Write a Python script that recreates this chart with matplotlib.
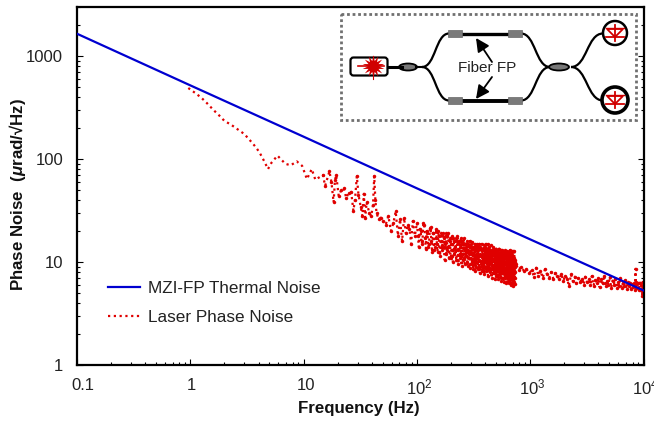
import matplotlib
matplotlib.use("Agg")
import matplotlib.pyplot as plt
from matplotlib.patches import FancyBboxPatch, Ellipse, Rectangle, Circle, PathPatch, Polygon
from matplotlib.path import Path
from matplotlib.transforms import ScaledTranslation

plt.rcParams['font.family'] = ['Liberation Sans', 'DejaVu Sans']
plt.rcParams['mathtext.fontset'] = 'custom'
plt.rcParams['mathtext.rm'] = 'Liberation Sans'
plt.rcParams['mathtext.it'] = 'Liberation Sans:italic:bold'
plt.rcParams['mathtext.bf'] = 'Liberation Sans:bold'

thermal_freq = [0.1, 1, 10, 100, 1000, 10000]
thermal_noise = [1650, 520, 165, 52, 16.6, 5.3]

low_freq = [0.96, 1.1, 1.25, 1.4, 1.6, 1.8, 2.0, 2.3, 2.7, 3.0,
            3.4, 3.8, 4.1, 4.5, 4.85, 5.2, 5.88, 6.9, 7.7, 8.7,
            9.7, 10.7, 11.8, 12.7, 13.6, 14.8, 15.5, 16.9, 17.6, 18.4,
            18.9, 19.4, 20.4, 21.5, 22.6, 23.8, 25, 26.3, 27.5, 28.4,
            29.5, 30.5, 32, 33, 34, 35, 36, 38, 39.5, 41,
            42, 43, 44, 46, 48, 50, 53, 56, 59, 62,
            65, 68, 71, 74, 77, 80, 83, 86, 89, 92, 96]
low_noise = [490, 440, 395, 350, 300, 265, 235, 215, 190, 175,
             150, 130, 115, 95, 80, 92, 108, 90, 87, 95,
             86, 64, 80, 63, 66, 70, 55, 76, 60, 38,
             62, 70, 44, 50, 52, 42, 47, 48, 31.5, 40,
             68, 45, 34, 28, 46, 27, 38, 30, 28, 36,
             68, 40, 30, 26, 27, 25, 23, 28, 20, 24,
             31, 18, 26, 16, 27, 19, 23, 21, 15, 25, 18]

band_freq = [100, 104, 108, 112, 116, 120, 124, 128, 132, 136,
             140, 144, 148, 152, 156, 160, 164, 168, 172, 176,
             180, 184, 188, 192, 196, 200, 204, 208, 212, 216,
             220, 224, 228, 232, 236, 240, 244, 248, 252, 256,
             260, 264, 268, 272, 276, 280, 284, 288, 292, 296,
             300, 304, 308, 312, 316, 320, 324, 328, 332, 336,
             340, 344, 348, 352, 356, 360, 364, 368, 372, 376,
             380, 384, 388, 392, 396, 400, 404, 408, 412, 416,
             420, 424, 428, 432, 436, 440, 444, 448, 452, 456,
             460, 464, 468, 472, 476, 480, 484, 488, 492, 496,
             500, 504, 508, 512, 516, 520, 524, 528, 532, 536,
             540, 544, 548, 552, 556, 560, 564, 568, 572, 576,
             580, 584, 588, 592, 596, 600, 604, 608, 612, 616,
             620, 624, 628, 632, 636, 640, 644, 648, 652, 656,
             660, 664, 668, 672, 676, 680, 684, 688, 692, 696,
             700, 704, 708, 712, 716, 720, 724, 728, 732, 736]
band_noise = [24, 14, 20, 16, 23, 13.5, 19, 15, 22, 12.5,
              19, 14, 21, 12.5, 18, 11.5, 19, 14.5, 17, 10.5,
              19, 13, 19, 11, 17, 11, 18, 10, 16, 13,
              17, 10.5, 18, 9.6, 16, 12, 17, 9.2, 15, 12,
              17, 9.5, 15, 11.5, 16, 9.2, 15, 11, 16, 8.8,
              15, 10.5, 15.5, 8.6, 14, 11, 15, 8.2, 14.5, 10,
              15, 8.6, 14, 10.5, 15, 7.8, 14, 9.5, 15, 8.2,
              13.5, 10, 14.5, 7.6, 14, 9, 15, 8.2, 13, 9.5,
              15, 7.3, 13.5, 9, 14, 8, 13, 9.5, 14.5, 7,
              13, 8.5, 14, 7.8, 12.5, 9, 13.5, 6.8, 13, 8.5,
              13.5, 7.3, 12.5, 8.8, 13, 6.8, 12.5, 8, 13.5, 7.2,
              12, 8.5, 13, 6.6, 12.5, 8, 13, 7, 12, 8.4,
              12.8, 6.4, 12, 7.8, 13, 7, 11.8, 8, 12.6, 6.3,
              12, 7.4, 12.8, 6.6, 11.5, 8, 12.4, 6.2, 12, 7.5,
              13, 6.4, 11.8, 7.6, 12.5, 6, 11.6, 7, 12.8, 6.2,
              11.5, 7.2, 12.7, 5.9, 11, 7, 12.7, 6.1, 10.5, 8]

band2_freq = [102, 106, 110, 114, 118, 122, 126, 130, 134, 138,
              142, 146, 150, 154, 158, 162, 166, 170, 174, 178,
              182, 186, 190, 194, 198, 202, 206, 210, 214, 218,
              222, 226, 230, 234, 238, 242, 246, 250, 254, 258,
              262, 266, 270, 274, 278, 282, 286, 290, 294, 298,
              302, 306, 310, 314, 318, 322, 326, 330, 334, 338,
              342, 346, 350, 354, 358, 362, 366, 370, 374, 378,
              382, 386, 390, 394, 398, 402, 406, 410, 414, 418,
              422, 426, 430, 434, 438, 442, 446, 450, 454, 458,
              462, 466, 470, 474, 478, 482, 486, 490, 494, 498,
              502, 506, 510, 514, 518, 522, 526, 530, 534, 538,
              542, 546, 550, 554, 558, 562, 566, 570, 574, 578,
              582, 586, 590, 594, 598, 602, 606, 610, 614, 618,
              622, 626, 630, 634, 638, 642, 646, 650, 654, 658,
              662, 666, 670, 674, 678, 682, 686, 690, 694, 698,
              702, 706, 710, 714, 718, 722, 726, 730, 734, 738]
band2_noise = [18, 21, 15, 24, 17, 20, 14, 21, 16, 19,
               13, 17, 15, 20, 12.5, 16, 13, 19, 14, 15,
               12, 18, 14, 16, 11.5, 15, 13, 17, 12, 14,
               10.5, 16, 13, 15, 11, 14, 12, 16, 10.5, 13.5,
               11, 15, 12.5, 14, 10, 13, 12, 14.5, 9.5, 12,
               13, 10, 12, 14, 9.5, 12.5, 11, 14, 9, 12,
               10, 13, 11.5, 8.6, 12, 13.5, 10, 11.5, 9, 13,
               11, 8.4, 12, 10.5, 12.5, 8.8, 11, 13, 10, 11.8,
               9, 12, 10.2, 12.8, 8.4, 11, 12, 9.6, 11, 12.6,
               8.8, 10.6, 12, 9.4, 11, 8.2, 10.4, 12.2, 9.6, 10.8,
               8, 10.4, 11.6, 9, 10.2, 11.8, 8.4, 10, 9.2, 11.4,
               7.6, 10.2, 11, 9, 10, 7.8, 11.2, 9.4, 10.4, 8,
               9.6, 11, 8.4, 10, 7.2, 9.8, 10.8, 8.6, 10, 7.4,
               9.4, 11, 8.2, 10, 7.2, 9.6, 10.6, 8.4, 9.6, 7,
               10, 8.6, 9.8, 7.2, 10.6, 8.4, 9.2, 7.8, 10, 6.6,
               9.4, 10.8, 8, 9.6, 6.4, 9.8, 8.4, 10, 7, 9]

tail_freq = [750, 790, 830, 880, 920, 980, 1030, 1080, 1130, 1180,
             1230, 1290, 1350, 1410, 1470, 1530, 1600, 1670, 1740, 1810,
             1880, 1960, 2040, 2120, 2200, 2290, 2380, 2470, 2560, 2660,
             2760, 2860, 2960, 3060, 3170, 3280, 3390, 3500, 3620, 3740,
             3860, 3980, 4100, 4230, 4360, 4490, 4620, 4760, 4900, 5040,
             5180, 5330, 5480, 5630, 5780, 5940, 6100, 6260, 6420, 6580,
             6750, 6920, 7090, 7260, 7430, 7600, 7780, 7960, 8140, 8320,
             8480, 8500, 8520, 8600, 8780, 8960, 9140, 9300, 9450, 9600,
             9720, 9820, 9900, 10000]
tail_noise = [9.5, 8.4, 9, 8.2, 8.6, 7.8, 8.3, 7.2, 8.8, 7.4,
              8.2, 7.0, 8.5, 7.6, 7.0, 8.0, 6.9, 7.8, 7.3, 6.8,
              7.7, 6.6, 7.4, 6.9, 5.8, 7.6, 6.5, 7.2, 6.2, 7.0,
              6.4, 6.9, 6.0, 7.2, 6.4, 6.8, 6.0, 7.3, 5.9, 6.7,
              6.2, 7.0, 5.7, 6.8, 6.2, 7.4, 5.8, 6.6, 6.0, 7.2,
              5.6, 6.6, 6.0, 6.9, 5.6, 6.4, 5.9, 7.0, 5.6, 6.2,
              5.8, 6.7, 5.5, 6.4, 5.8, 6.3, 5.5, 6.1, 5.7, 6.3,
              5.4, 8.6, 5.6, 6.4, 5.6, 6.2, 5.3, 6.3, 5.4, 6.0,
              4.7, 6.4, 5.0, 6.0]

merged = sorted(zip(band_freq + band2_freq, band_noise + band2_noise))
laser_freq = low_freq + [m[0] for m in merged] + tail_freq
laser_noise = low_noise + [m[1] for m in merged] + tail_noise
scatter_freq = [f for f in laser_freq if f >= 14]
scatter_noise = [v for f, v in zip(laser_freq, laser_noise) if f >= 14]

x_ticks = [0.1, 1, 10, 100, 1000, 10000]
x_labels = ['0.1', '1', '10', '10$^{\\mathregular{2}}$', '10$^{\\mathregular{3}}$', '10$^{\\mathregular{4}}$']
y_ticks = [1, 10, 100, 1000]
y_labels = ['1', '10', '100', '1000']

W, H = 654, 422
fig = plt.figure(figsize=(W / 100, H / 100), dpi=100)
ax = fig.add_axes([77 / W, 1 - 365 / H, (643.5 - 77) / W, (365 - 7) / H])

RED = '#E00000'
BLUE = '#0000D0'
ax.plot(laser_freq, laser_noise, color=RED, lw=1.6, ls=(0, (1, 1.6)), label='Laser Phase Noise', zorder=2)
ax.plot(scatter_freq, scatter_noise, ls='none', marker='o', ms=2.5, mew=0, color=RED, zorder=2)
ax.plot(thermal_freq, thermal_noise, color=BLUE, lw=1.6, label='MZI-FP Thermal Noise', zorder=3)

ax.set_xscale('log')
ax.set_yscale('log')
ax.set_xlim(0.1, 10000)
ax.set_ylim(1, 3000)
ax.set_xticks(x_ticks)
ax.set_xticklabels(x_labels)
ax.set_yticks(y_ticks)
ax.set_yticklabels(y_labels)
ax.tick_params(which='major', direction='in', length=4, width=0.8, labelsize=12, right=True, labelcolor='#222222')
ax.tick_params(which='minor', direction='in', length=2.2, width=0.8, right=True)
ax.tick_params(axis='y', which='major', pad=10)
ax.tick_params(axis='x', which='major', pad=9)
for s in ax.spines.values():
    s.set_linewidth(1.6)
shifts = [6, 1, 2, 2, 2, 2]
for lab, dx in zip(ax.get_xticklabels(), shifts):
    lab.set_transform(lab.get_transform() + ScaledTranslation(dx / 100, 0, fig.dpi_scale_trans))

fig.text(359 / W, 1 - 408 / H, 'Frequency (Hz)', ha='center', va='center', fontsize=12.2, fontweight='bold', color='#111111')
fig.text(18 / W, 1 - 194 / H, 'Phase Noise  ($\\mu$rad/\u221aHz)', rotation=90, ha='center', va='center',
         fontsize=12.2, fontweight='bold', color='#111111')

h, l = ax.get_legend_handles_labels()
ax.legend(h[::-1], l[::-1], loc='lower left', bbox_to_anchor=(31 / 566.5, 40 / 358), frameon=False,
          fontsize=12.3, labelspacing=0.82, handlelength=1.85, handletextpad=0.5, borderpad=0, borderaxespad=0,
          labelcolor='#222222')

# inset schematic drawn in pixel space
ov = fig.add_axes([0, 0, 1, 1], facecolor='none', zorder=5)
ov.set_xlim(0, W)
ov.set_ylim(H, 0)
ov.axis('off')

ov.add_patch(Rectangle((341, 14), 295, 106, fill=False, ec='#707070', lw=2, ls=(0, (1, 1))))


def scurve(p0, p1, lw=1.6):
    mx = (p0[0] + p1[0]) / 2
    verts = [p0, (mx, p0[1]), (mx, p1[1]), p1]
    ov.add_patch(PathPatch(Path(verts, [Path.MOVETO, Path.CURVE4, Path.CURVE4, Path.CURVE4]),
                           fill=False, ec='black', lw=lw))


ov.add_patch(FancyBboxPatch((352, 59), 34, 15, boxstyle='round,pad=1.5,rounding_size=3', fc='white', ec='black', lw=1.6))
ov.plot([358, 384], [66, 66], color='#D00000', lw=1.2)
ov.plot([373], [66], marker=(14, 1, 0), ms=16, color='#D00000', mew=0)
ov.plot([373, 373], [56, 79], color='#D00000', lw=0.8)
ov.plot([388, 402], [66.5, 66.5], color='black', lw=2.2)
ov.add_patch(Ellipse((408, 67), 18, 7, fc='#777777', ec='black', lw=1.3))
ov.add_patch(Ellipse((559, 67), 20, 7, fc='#777777', ec='black', lw=1.3))
ov.plot([416, 422], [67, 67], color='black', lw=1.5)
scurve((422, 67), (449, 33.5))
scurve((422, 67), (449, 100.5))
scurve((521, 33.5), (550, 67))
scurve((521, 100.5), (550, 67))
scurve((571, 67), (603, 33.5))
scurve((571, 67), (603, 100.5))
ov.plot([461, 509], [33.5, 33.5], color='black', lw=2.4)
ov.plot([461, 509], [100.5, 100.5], color='black', lw=2.8)
for x0 in (448, 508):
    for y0 in (30, 97):
        ov.add_patch(Rectangle((x0, y0), 13.5, 7, fc='#7A7A7A', ec='#666666', lw=0.5, zorder=3))

for (cx, cy, r, elw) in ((615, 33, 12, 1.8), (615, 100, 13, 2.6)):
    ov.add_patch(Circle((cx, cy), r, fc='white', ec='black', lw=elw, zorder=3))
    ov.add_patch(Polygon([(607, cy - 4), (623, cy - 4), (615, cy + 4)], closed=True, fill=False, ec='#D00000', lw=1.3, zorder=4))
    ov.plot([606, 624], [cy + 4, cy + 4], color='#D00000', lw=1.3, zorder=4)
    ov.plot([606, 624], [cy - 5, cy - 5], color='#D00000', lw=1.0, zorder=4)
    ov.plot([615, 615], [cy - 8, cy + 8], color='#D00000', lw=1.3, zorder=4)

ov.text(487, 67.5, 'Fiber FP', ha='center', va='center', fontsize=11, color='#222222')
ov.annotate('', xy=(476, 38), xytext=(492, 62),
            arrowprops=dict(arrowstyle='-|>,head_length=0.8,head_width=0.4', color='black', lw=1.3, shrinkA=0, shrinkB=0))
ov.annotate('', xy=(476, 99), xytext=(492, 77),
            arrowprops=dict(arrowstyle='-|>,head_length=0.8,head_width=0.4', color='black', lw=1.3, shrinkA=0, shrinkB=0))

fig.savefig('out.png', dpi=100)
